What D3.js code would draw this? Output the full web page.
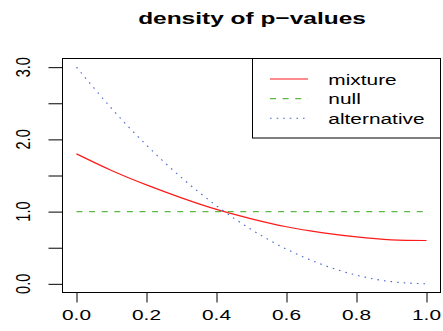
<!DOCTYPE html>
<html>
<head>
<meta charset="utf-8">
<script src="https://cdn.jsdelivr.net/npm/d3@7"></script>
<style>
  body { margin: 0; background: #fff; }
  text { font-family: "Liberation Sans", Arial, Helvetica, sans-serif; fill: #000; }
</style>
</head>
<body>
<div id="chart"></div>
<script>
// values
const pValues = [0.0, 0.1, 0.2, 0.3, 0.4, 0.5, 0.6, 0.7, 0.8, 0.9, 1.0];
const mixture = [1.80, 1.57, 1.37, 1.19, 1.03, 0.90, 0.79, 0.71, 0.65, 0.61, 0.60];
const nullDensity = [1.00, 1.00, 1.00, 1.00, 1.00, 1.00, 1.00, 1.00, 1.00, 1.00, 1.00];
const alternative = [3.00, 2.43, 1.92, 1.47, 1.08, 0.75, 0.48, 0.27, 0.12, 0.03, 0.00];
const xTicks = [0.0, 0.2, 0.4, 0.6, 0.8, 1.0];
const yTicks = [0.0, 0.5, 1.0, 1.5, 2.0, 2.5, 3.0];
const yLabels = [0.0, 1.0, 2.0, 3.0];
const legendNames = ["mixture", "null", "alternative"];

const width = 443, height = 331;
const plot = {left: 62.5, right: 440.5, top: 58.5, bottom: 292.5};
const stretch = 1.44; // text in the reference is wider than tall

const series = [
    {name: legendNames[0], values: mixture, color: "#ff1a1a", dash: null, width: 1.2},
    {name: legendNames[1], values: nullDensity, color: "#5cb845", dash: "6,6.6", width: 1.1},
    {name: legendNames[2], values: alternative, color: "#4a66d0", dash: "1.6,5", width: 1.1}
];

// R style 4% padding of the data range
let x = d3.scaleLinear().domain([-0.04, 1.04]).range([plot.left, plot.right]);
let y = d3.scaleLinear().domain([-0.12, 3.12]).range([plot.bottom, plot.top]);

const svg = d3.select("#chart")
    .append("svg")
    .attr("width", width)
    .attr("height", height);

svg.append("rect")
    .attr("width", width)
    .attr("height", height)
    .attr("fill", "#fff");

// title
svg.append("text")
    .attr("transform", "translate(" + 252 + "," + 23.5 + ") scale(" + stretch + ",1)")
    .attr("text-anchor", "middle")
    .style("font-size", "17px")
    .style("font-weight", "bold")
    .text("density of p\u2212values");

// curves
series.forEach(function (s) {
    svg.append("path")
        .datum(s.values)
        .attr("fill", "none")
        .attr("stroke", s.color)
        .attr("stroke-width", s.width)
        .attr("stroke-dasharray", s.dash)
        .attr("d", d3.line()
            .x(function (d, i) { return x(pValues[i]); })
            .y(function (d) { return y(d); })
            .curve(d3.curveNatural));
});

// x axis
const xAxis = svg.append("g")
    .attr("transform", "translate(0," + plot.bottom + ")")
    .call(d3.axisBottom(x).tickValues(xTicks).tickSize(10).tickFormat(""));
xAxis.select(".domain").remove();
xAxis.selectAll(".tick line").attr("stroke", "#000");

svg.selectAll(".xlabel")
    .data(xTicks)
    .enter()
    .append("text")
    .attr("class", "xlabel")
    .attr("transform", function (d) { return "translate(" + x(d) + ",320) scale(" + stretch + ",1)"; })
    .attr("text-anchor", "middle")
    .style("font-size", "14.5px")
    .text(d3.format(".1f"));

// y axis
const yAxis = svg.append("g")
    .attr("transform", "translate(" + plot.left + ",0)")
    .call(d3.axisLeft(y).tickValues(yTicks).tickSize(14).tickFormat(""));
yAxis.select(".domain").remove();
yAxis.selectAll(".tick line").attr("stroke", "#000");

svg.selectAll(".ylabel")
    .data(yLabels)
    .enter()
    .append("text")
    .attr("class", "ylabel")
    .attr("transform", function (d) { return "translate(30," + y(d) + ") scale(" + stretch + ",1) rotate(-90)"; })
    .attr("text-anchor", "middle")
    .style("font-size", "14.5px")
    .text(d3.format(".1f"));

// box
svg.append("rect")
    .attr("x", plot.left)
    .attr("y", plot.top)
    .attr("width", plot.right - plot.left)
    .attr("height", plot.bottom - plot.top)
    .attr("fill", "none")
    .attr("stroke", "#000")
    .attr("stroke-width", 1);

// legend
const legend = svg.append("g");
legend.append("rect")
    .attr("x", 252.5)
    .attr("y", plot.top)
    .attr("width", plot.right - 252.5)
    .attr("height", 79.5)
    .attr("fill", "#fff")
    .attr("stroke", "#000")
    .attr("stroke-width", 1);

const legendY = d3.scalePoint().domain(legendNames).range([79, 118.3]);

series.forEach(function (s) {
    legend.append("line")
        .attr("x1", 270)
        .attr("x2", 308)
        .attr("y1", legendY(s.name))
        .attr("y2", legendY(s.name))
        .attr("stroke", s.color)
        .attr("stroke-width", s.width)
        .attr("stroke-dasharray", s.dash);
    legend.append("text")
        .attr("transform", "translate(328.3," + (legendY(s.name) + 5.5) + ") scale(" + stretch + ",1)")
        .style("font-size", "14.5px")
        .text(s.name);
});
</script>
</body>
</html>
